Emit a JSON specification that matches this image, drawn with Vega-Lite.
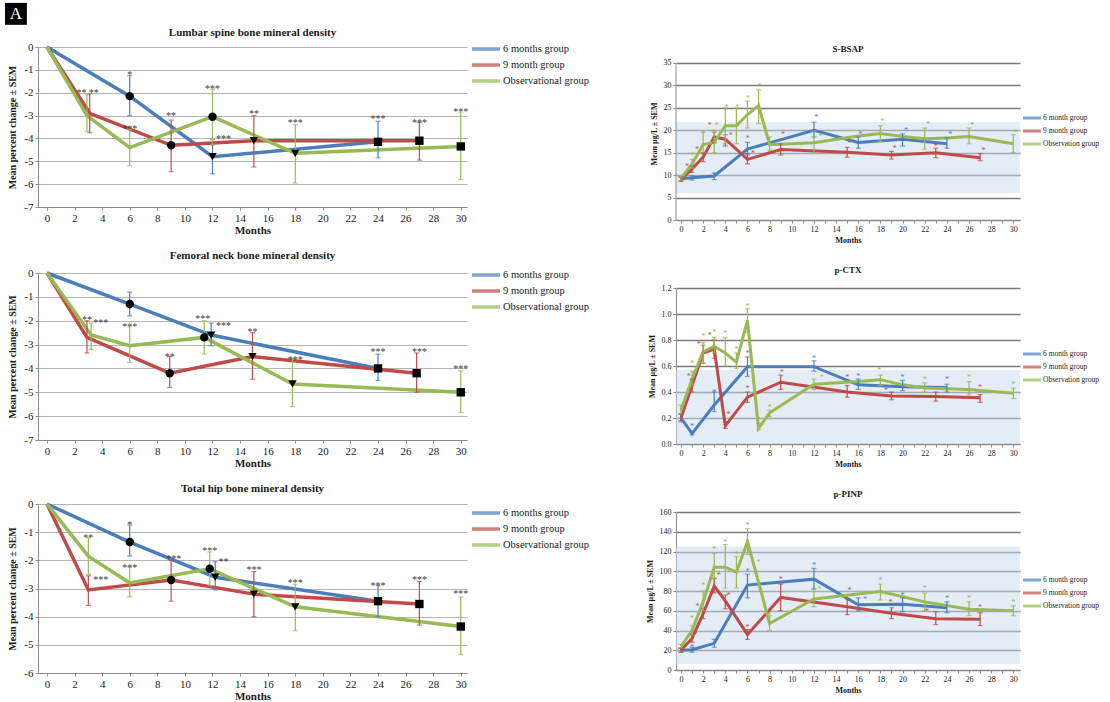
{
  "$schema": "https://vega.github.io/schema/vega-lite/v6.json",
  "background": "white",
  "padding": {"left": 4, "top": 2, "right": 0, "bottom": 0},
  "config": {
    "font": "Liberation Serif",
    "view": {"stroke": null},
    "axis": {"labelFont": "Liberation Serif", "titleFont": "Liberation Serif", "labelColor": "#1a1a1a", "titleColor": "#1a1a1a", "domainColor": "#8c8c8c", "tickColor": "#8c8c8c", "gridColor": "#b4b4b4", "labelFontSize": 11, "titleFontSize": 11, "titleFontWeight": "bold", "tickSize": 3, "labelPadding": 2, "labelOverlap": false},
    "axisX": {"grid": false, "titlePadding": 1, "labelFlush": false},
    "axisY": {"grid": true, "titlePadding": 6, "titleFontSize": 10},
    "title": {"font": "Liberation Serif", "fontWeight": "bold", "fontSize": 11, "color": "#1a1a1a", "offset": 9},
    "legend": {"labelFont": "Liberation Serif", "labelColor": "#1a1a1a"}
  },
  "datasets": {
    "lumbar": [
      {"group": "6 months group", "month": 0, "mean": 0},
      {"group": "6 months group", "month": 6, "mean": -2.15, "lo": -3.0, "hi": -1.25, "tp": "T1"},
      {"group": "6 months group", "month": 12, "mean": -4.8, "lo": -5.55, "hi": -4.05, "tp": "T2"},
      {"group": "6 months group", "month": 24, "mean": -4.15, "lo": -4.85, "hi": -3.25, "tp": "T3"},
      {"group": "9 month group", "month": 0, "mean": 0},
      {"group": "9 month group", "month": 3.1, "mean": -2.9, "lo": -3.75, "hi": -2.05},
      {"group": "9 month group", "month": 9, "mean": -4.3, "lo": -5.45, "hi": -3.2, "tp": "T1"},
      {"group": "9 month group", "month": 15, "mean": -4.1, "lo": -5.25, "hi": -3.0, "tp": "T2"},
      {"group": "9 month group", "month": 27, "mean": -4.1, "lo": -4.95, "hi": -3.3, "tp": "T3"},
      {"group": "Observational group", "month": 0, "mean": 0},
      {"group": "Observational group", "month": 2.9, "mean": -3.0, "lo": -3.7, "hi": -2.1},
      {"group": "Observational group", "month": 6, "mean": -4.4, "lo": -5.2, "hi": -3.6},
      {"group": "Observational group", "month": 12, "mean": -3.05, "lo": -4.3, "hi": -1.85, "tp": "T1"},
      {"group": "Observational group", "month": 18, "mean": -4.65, "lo": -5.95, "hi": -3.4, "tp": "T2"},
      {"group": "Observational group", "month": 30, "mean": -4.35, "lo": -5.8, "hi": -2.85, "tp": "T3"}
    ],
    "lumbar_stars": [
      {"group": "Observational group", "month": 2.5, "level": -1.9, "stars": "**"},
      {"group": "9 month group", "month": 3.4, "level": -1.9, "stars": "**"},
      {"group": "6 months group", "month": 6, "level": -1.1, "stars": "*"},
      {"group": "Observational group", "month": 6, "level": -3.45, "stars": "***"},
      {"group": "9 month group", "month": 9, "level": -2.9, "stars": "**"},
      {"group": "Observational group", "month": 12, "level": -1.7, "stars": "***"},
      {"group": "6 months group", "month": 12.8, "level": -3.9, "stars": "***"},
      {"group": "9 month group", "month": 15, "level": -2.8, "stars": "**"},
      {"group": "Observational group", "month": 18, "level": -3.2, "stars": "***"},
      {"group": "6 months group", "month": 24, "level": -3.0, "stars": "***"},
      {"group": "9 month group", "month": 27, "level": -3.2, "stars": "***"},
      {"group": "Observational group", "month": 30, "level": -2.7, "stars": "***"}
    ],
    "femoral": [
      {"group": "6 months group", "month": 0, "mean": 0},
      {"group": "6 months group", "month": 6, "mean": -1.3, "lo": -1.8, "hi": -0.8, "tp": "T1"},
      {"group": "6 months group", "month": 11.9, "mean": -2.6, "lo": -3.05, "hi": -2.1, "tp": "T2"},
      {"group": "6 months group", "month": 24, "mean": -4.0, "lo": -4.5, "hi": -3.4, "tp": "T3"},
      {"group": "9 month group", "month": 0, "mean": 0},
      {"group": "9 month group", "month": 2.9, "mean": -2.7, "lo": -3.35, "hi": -2.0},
      {"group": "9 month group", "month": 8.9, "mean": -4.2, "lo": -4.8, "hi": -3.5, "tp": "T1"},
      {"group": "9 month group", "month": 14.9, "mean": -3.5, "lo": -4.45, "hi": -2.5, "tp": "T2"},
      {"group": "9 month group", "month": 26.8, "mean": -4.2, "lo": -5.0, "hi": -3.35, "tp": "T3"},
      {"group": "Observational group", "month": 0, "mean": 0},
      {"group": "Observational group", "month": 3.2, "mean": -2.6, "lo": -3.2, "hi": -2.1},
      {"group": "Observational group", "month": 6, "mean": -3.05, "lo": -3.75, "hi": -2.25},
      {"group": "Observational group", "month": 11.4, "mean": -2.7, "lo": -3.4, "hi": -2.0, "tp": "T1"},
      {"group": "Observational group", "month": 17.8, "mean": -4.65, "lo": -5.6, "hi": -3.6, "tp": "T2"},
      {"group": "Observational group", "month": 30, "mean": -5.0, "lo": -5.85, "hi": -4.1, "tp": "T3"}
    ],
    "femoral_stars": [
      {"group": "9 month group", "month": 2.9, "level": -1.85, "stars": "**"},
      {"group": "Observational group", "month": 3.9, "level": -1.95, "stars": "***"},
      {"group": "Observational group", "month": 6, "level": -2.15, "stars": "***"},
      {"group": "9 month group", "month": 8.9, "level": -3.4, "stars": "**"},
      {"group": "Observational group", "month": 11.3, "level": -1.8, "stars": "***"},
      {"group": "6 months group", "month": 12.8, "level": -2.1, "stars": "***"},
      {"group": "9 month group", "month": 14.9, "level": -2.35, "stars": "**"},
      {"group": "Observational group", "month": 18, "level": -3.5, "stars": "***"},
      {"group": "6 months group", "month": 24, "level": -3.2, "stars": "***"},
      {"group": "9 month group", "month": 27, "level": -3.2, "stars": "***"},
      {"group": "Observational group", "month": 30, "level": -3.9, "stars": "***"}
    ],
    "hip": [
      {"group": "6 months group", "month": 0, "mean": 0},
      {"group": "6 months group", "month": 6, "mean": -1.35, "lo": -1.85, "hi": -0.75, "tp": "T1"},
      {"group": "6 months group", "month": 12.2, "mean": -2.6, "lo": -3.05, "hi": -2.05, "tp": "T2"},
      {"group": "6 months group", "month": 24, "mean": -3.45, "lo": -4.0, "hi": -2.9, "tp": "T3"},
      {"group": "9 month group", "month": 0, "mean": 0},
      {"group": "9 month group", "month": 3, "mean": -3.05, "lo": -3.6, "hi": -2.55},
      {"group": "9 month group", "month": 9, "mean": -2.7, "lo": -3.45, "hi": -2.0, "tp": "T1"},
      {"group": "9 month group", "month": 15, "mean": -3.2, "lo": -4.0, "hi": -2.4, "tp": "T2"},
      {"group": "9 month group", "month": 27, "mean": -3.55, "lo": -4.3, "hi": -2.75, "tp": "T3"},
      {"group": "Observational group", "month": 0, "mean": 0},
      {"group": "Observational group", "month": 3, "mean": -1.85, "lo": -2.5, "hi": -1.2},
      {"group": "Observational group", "month": 6, "mean": -2.8, "lo": -3.3, "hi": -2.25},
      {"group": "Observational group", "month": 11.8, "mean": -2.3, "lo": -2.9, "hi": -1.7, "tp": "T1"},
      {"group": "Observational group", "month": 18, "mean": -3.65, "lo": -4.5, "hi": -2.85, "tp": "T2"},
      {"group": "Observational group", "month": 30, "mean": -4.35, "lo": -5.35, "hi": -3.3, "tp": "T3"}
    ],
    "hip_stars": [
      {"group": "Observational group", "month": 3, "level": -1.1, "stars": "**"},
      {"group": "9 month group", "month": 3.9, "level": -2.6, "stars": "***"},
      {"group": "6 months group", "month": 6, "level": -0.65, "stars": "*"},
      {"group": "Observational group", "month": 6, "level": -2.15, "stars": "***"},
      {"group": "9 month group", "month": 9.2, "level": -1.85, "stars": "***"},
      {"group": "Observational group", "month": 11.8, "level": -1.55, "stars": "***"},
      {"group": "6 months group", "month": 12.8, "level": -1.95, "stars": "**"},
      {"group": "9 month group", "month": 15, "level": -2.25, "stars": "***"},
      {"group": "Observational group", "month": 18, "level": -2.7, "stars": "***"},
      {"group": "6 months group", "month": 24, "level": -2.8, "stars": "***"},
      {"group": "9 month group", "month": 27, "level": -2.6, "stars": "***"},
      {"group": "Observational group", "month": 30, "level": -3.1, "stars": "***"}
    ],
    "bsap": [
      {"group": "6 month group", "month": 0, "mean": 9.2, "lo": 8.7, "hi": 9.7},
      {"group": "6 month group", "month": 1, "mean": 9.4, "lo": 8.9, "hi": 9.9},
      {"group": "6 month group", "month": 3, "mean": 9.8, "lo": 9.0, "hi": 10.5},
      {"group": "6 month group", "month": 6, "mean": 15.8, "lo": 14.5, "hi": 17.3},
      {"group": "6 month group", "month": 12, "mean": 20.0, "lo": 18.5, "hi": 21.8},
      {"group": "6 month group", "month": 16, "mean": 17.3, "lo": 16.0, "hi": 18.5},
      {"group": "6 month group", "month": 20, "mean": 18.0, "lo": 16.5, "hi": 19.2},
      {"group": "6 month group", "month": 24, "mean": 17.0, "lo": 16.0, "hi": 18.3},
      {"group": "9 month group", "month": 0, "mean": 9.0, "lo": 8.6, "hi": 9.5},
      {"group": "9 month group", "month": 1, "mean": 11.4, "lo": 10.6, "hi": 12.0},
      {"group": "9 month group", "month": 2, "mean": 14.0, "lo": 13.0, "hi": 15.0},
      {"group": "9 month group", "month": 3, "mean": 18.5, "lo": 17.2, "hi": 19.6},
      {"group": "9 month group", "month": 4, "mean": 18.0, "lo": 16.5, "hi": 19.0},
      {"group": "9 month group", "month": 6, "mean": 13.5, "lo": 12.5, "hi": 14.8},
      {"group": "9 month group", "month": 9, "mean": 15.7, "lo": 14.5, "hi": 17.0},
      {"group": "9 month group", "month": 15, "mean": 15.1, "lo": 14.0, "hi": 16.2},
      {"group": "9 month group", "month": 19, "mean": 14.5, "lo": 13.6, "hi": 15.3},
      {"group": "9 month group", "month": 23, "mean": 15.0, "lo": 13.9, "hi": 16.0},
      {"group": "9 month group", "month": 27, "mean": 13.9, "lo": 13.2, "hi": 14.8},
      {"group": "Observation group", "month": 0, "mean": 9.3, "lo": 8.8, "hi": 9.8},
      {"group": "Observation group", "month": 1, "mean": 12.5, "lo": 11.5, "hi": 13.5},
      {"group": "Observation group", "month": 2, "mean": 16.8, "lo": 15.0, "hi": 19.5},
      {"group": "Observation group", "month": 3, "mean": 17.3, "lo": 15.0, "hi": 20.0},
      {"group": "Observation group", "month": 4, "mean": 21.0, "lo": 17.0, "hi": 25.0},
      {"group": "Observation group", "month": 5, "mean": 21.0, "lo": 17.0, "hi": 25.0},
      {"group": "Observation group", "month": 6, "mean": 23.5, "lo": 20.5, "hi": 26.5},
      {"group": "Observation group", "month": 7, "mean": 25.5, "lo": 21.5, "hi": 29.0},
      {"group": "Observation group", "month": 8, "mean": 16.8, "lo": 15.5, "hi": 18.5},
      {"group": "Observation group", "month": 12, "mean": 17.2, "lo": 15.0, "hi": 19.8},
      {"group": "Observation group", "month": 16, "mean": 18.7},
      {"group": "Observation group", "month": 18, "mean": 19.3, "lo": 17.5, "hi": 21.0},
      {"group": "Observation group", "month": 20, "mean": 18.6},
      {"group": "Observation group", "month": 22, "mean": 18.1, "lo": 15.8, "hi": 20.5},
      {"group": "Observation group", "month": 24, "mean": 18.3},
      {"group": "Observation group", "month": 26, "mean": 18.6, "lo": 17.0, "hi": 20.5},
      {"group": "Observation group", "month": 30, "mean": 17.0, "lo": 15.0, "hi": 19.0}
    ],
    "bsap_stars": [
      {"group": "6 month group", "month": 6, "level": 18.6, "stars": "*"},
      {"group": "6 month group", "month": 12.2, "level": 23.1, "stars": "*"},
      {"group": "6 month group", "month": 16.2, "level": 19.5, "stars": "*"},
      {"group": "6 month group", "month": 20.3, "level": 20.3, "stars": "*"},
      {"group": "6 month group", "month": 24.3, "level": 19.5, "stars": "*"},
      {"group": "9 month group", "month": 0.55, "level": 12.3, "stars": "*"},
      {"group": "9 month group", "month": 1.45, "level": 16.1, "stars": "*"},
      {"group": "9 month group", "month": 2.6, "level": 21.4, "stars": "*"},
      {"group": "9 month group", "month": 4.5, "level": 19.2, "stars": "*"},
      {"group": "9 month group", "month": 6.5, "level": 15.2, "stars": "*"},
      {"group": "9 month group", "month": 9.2, "level": 19.3, "stars": "*"},
      {"group": "9 month group", "month": 15.2, "level": 17.4, "stars": "*"},
      {"group": "9 month group", "month": 19.3, "level": 16.2, "stars": "*"},
      {"group": "9 month group", "month": 23.0, "level": 16.7, "stars": "*"},
      {"group": "9 month group", "month": 27.3, "level": 15.9, "stars": "*"},
      {"group": "Observation group", "month": 1.0, "level": 14.7, "stars": "*"},
      {"group": "Observation group", "month": 2.0, "level": 19.6, "stars": "*"},
      {"group": "Observation group", "month": 3.2, "level": 21.3, "stars": "*"},
      {"group": "Observation group", "month": 4.1, "level": 25.3, "stars": "*"},
      {"group": "Observation group", "month": 5.1, "level": 25.3, "stars": "*"},
      {"group": "Observation group", "month": 6.05, "level": 27.4, "stars": "*"},
      {"group": "Observation group", "month": 7.06, "level": 30.0, "stars": "*"},
      {"group": "Observation group", "month": 12.6, "level": 19.0, "stars": "*"},
      {"group": "Observation group", "month": 18.2, "level": 22.3, "stars": "*"},
      {"group": "Observation group", "month": 22.3, "level": 21.6, "stars": "*"},
      {"group": "Observation group", "month": 26.3, "level": 21.4, "stars": "*"},
      {"group": "Observation group", "month": 30.2, "level": 19.9, "stars": "*"}
    ],
    "ctx": [
      {"group": "6 month group", "month": 0, "mean": 0.2, "lo": 0.17, "hi": 0.23},
      {"group": "6 month group", "month": 1, "mean": 0.08, "lo": 0.07, "hi": 0.1},
      {"group": "6 month group", "month": 3, "mean": 0.3, "lo": 0.25, "hi": 0.4},
      {"group": "6 month group", "month": 6, "mean": 0.595, "lo": 0.52, "hi": 0.67},
      {"group": "6 month group", "month": 12, "mean": 0.595, "lo": 0.56, "hi": 0.64},
      {"group": "6 month group", "month": 16, "mean": 0.455, "lo": 0.42, "hi": 0.5},
      {"group": "6 month group", "month": 20, "mean": 0.44, "lo": 0.41, "hi": 0.49},
      {"group": "6 month group", "month": 24, "mean": 0.435, "lo": 0.4, "hi": 0.46},
      {"group": "9 month group", "month": 0, "mean": 0.2, "lo": 0.18, "hi": 0.23},
      {"group": "9 month group", "month": 1, "mean": 0.45, "lo": 0.4, "hi": 0.5},
      {"group": "9 month group", "month": 2, "mean": 0.7, "lo": 0.62, "hi": 0.76},
      {"group": "9 month group", "month": 3, "mean": 0.73, "lo": 0.66, "hi": 0.8},
      {"group": "9 month group", "month": 4, "mean": 0.14, "lo": 0.12, "hi": 0.17},
      {"group": "9 month group", "month": 6, "mean": 0.36, "lo": 0.32, "hi": 0.4},
      {"group": "9 month group", "month": 9, "mean": 0.475, "lo": 0.42, "hi": 0.53},
      {"group": "9 month group", "month": 15, "mean": 0.4, "lo": 0.36, "hi": 0.45},
      {"group": "9 month group", "month": 19, "mean": 0.37, "lo": 0.34, "hi": 0.4},
      {"group": "9 month group", "month": 23, "mean": 0.365, "lo": 0.33, "hi": 0.4},
      {"group": "9 month group", "month": 27, "mean": 0.355, "lo": 0.32, "hi": 0.38},
      {"group": "Observation group", "month": 0, "mean": 0.26, "lo": 0.23, "hi": 0.3},
      {"group": "Observation group", "month": 1, "mean": 0.5, "lo": 0.45, "hi": 0.56},
      {"group": "Observation group", "month": 2, "mean": 0.71, "lo": 0.62, "hi": 0.78},
      {"group": "Observation group", "month": 3, "mean": 0.75, "lo": 0.7, "hi": 0.82},
      {"group": "Observation group", "month": 4, "mean": 0.7, "lo": 0.6, "hi": 0.82},
      {"group": "Observation group", "month": 5, "mean": 0.63, "lo": 0.58, "hi": 0.7},
      {"group": "Observation group", "month": 6, "mean": 0.95, "lo": 0.86, "hi": 1.04},
      {"group": "Observation group", "month": 7, "mean": 0.12, "lo": 0.11, "hi": 0.16},
      {"group": "Observation group", "month": 8, "mean": 0.24, "lo": 0.21, "hi": 0.26},
      {"group": "Observation group", "month": 12, "mean": 0.46, "lo": 0.42, "hi": 0.5},
      {"group": "Observation group", "month": 16, "mean": 0.48},
      {"group": "Observation group", "month": 18, "mean": 0.495, "lo": 0.45, "hi": 0.53},
      {"group": "Observation group", "month": 20, "mean": 0.455},
      {"group": "Observation group", "month": 22, "mean": 0.43, "lo": 0.4, "hi": 0.47},
      {"group": "Observation group", "month": 26, "mean": 0.42, "lo": 0.38, "hi": 0.48},
      {"group": "Observation group", "month": 30, "mean": 0.39, "lo": 0.35, "hi": 0.43}
    ],
    "ctx_stars": [
      {"group": "6 month group", "month": 1, "level": 0.15, "stars": "*"},
      {"group": "6 month group", "month": 3, "level": 0.41, "stars": "*"},
      {"group": "6 month group", "month": 6, "level": 0.71, "stars": "*"},
      {"group": "6 month group", "month": 12, "level": 0.67, "stars": "*"},
      {"group": "6 month group", "month": 16, "level": 0.53, "stars": "*"},
      {"group": "6 month group", "month": 20, "level": 0.52, "stars": "*"},
      {"group": "6 month group", "month": 24, "level": 0.51, "stars": "*"},
      {"group": "9 month group", "month": 0.7, "level": 0.53, "stars": "*"},
      {"group": "9 month group", "month": 1.6, "level": 0.78, "stars": "*"},
      {"group": "9 month group", "month": 2.6, "level": 0.85, "stars": "*"},
      {"group": "9 month group", "month": 4.3, "level": 0.24, "stars": "*"},
      {"group": "9 month group", "month": 6, "level": 0.44, "stars": "*"},
      {"group": "9 month group", "month": 9.1, "level": 0.56, "stars": "*"},
      {"group": "9 month group", "month": 15, "level": 0.52, "stars": "*"},
      {"group": "9 month group", "month": 18.5, "level": 0.42, "stars": "*"},
      {"group": "9 month group", "month": 27, "level": 0.45, "stars": "*"},
      {"group": "Observation group", "month": 1, "level": 0.63, "stars": "*"},
      {"group": "Observation group", "month": 2, "level": 0.84, "stars": "*"},
      {"group": "Observation group", "month": 3, "level": 0.87, "stars": "*"},
      {"group": "Observation group", "month": 4, "level": 0.86, "stars": "*"},
      {"group": "Observation group", "month": 5, "level": 0.74, "stars": "*"},
      {"group": "Observation group", "month": 6, "level": 1.07, "stars": "*"},
      {"group": "Observation group", "month": 7, "level": 0.2, "stars": "*"},
      {"group": "Observation group", "month": 8, "level": 0.29, "stars": "*"},
      {"group": "Observation group", "month": 12.7, "level": 0.52, "stars": "*"},
      {"group": "Observation group", "month": 17.9, "level": 0.58, "stars": "*"},
      {"group": "Observation group", "month": 22, "level": 0.51, "stars": "*"},
      {"group": "Observation group", "month": 26, "level": 0.52, "stars": "*"},
      {"group": "Observation group", "month": 30, "level": 0.47, "stars": "*"}
    ],
    "pinp": [
      {"group": "6 month group", "month": 0, "mean": 20, "lo": 18, "hi": 22},
      {"group": "6 month group", "month": 1, "mean": 20.5, "lo": 18, "hi": 23},
      {"group": "6 month group", "month": 3, "mean": 27, "lo": 23, "hi": 31},
      {"group": "6 month group", "month": 6, "mean": 86, "lo": 73, "hi": 97},
      {"group": "6 month group", "month": 12, "mean": 92, "lo": 82, "hi": 103},
      {"group": "6 month group", "month": 16, "mean": 66, "lo": 60, "hi": 73},
      {"group": "6 month group", "month": 20, "mean": 66.5, "lo": 59, "hi": 73},
      {"group": "6 month group", "month": 24, "mean": 63, "lo": 58, "hi": 69},
      {"group": "9 month group", "month": 0, "mean": 20, "lo": 18, "hi": 22},
      {"group": "9 month group", "month": 1, "mean": 32, "lo": 28, "hi": 36},
      {"group": "9 month group", "month": 2, "mean": 57, "lo": 52, "hi": 62},
      {"group": "9 month group", "month": 3, "mean": 85, "lo": 78, "hi": 93},
      {"group": "9 month group", "month": 4, "mean": 70, "lo": 62, "hi": 76},
      {"group": "9 month group", "month": 6, "mean": 36, "lo": 31, "hi": 41},
      {"group": "9 month group", "month": 9, "mean": 73.5, "lo": 60, "hi": 87},
      {"group": "9 month group", "month": 15, "mean": 64, "lo": 56, "hi": 72},
      {"group": "9 month group", "month": 19, "mean": 57.5, "lo": 52, "hi": 63},
      {"group": "9 month group", "month": 23, "mean": 52, "lo": 46, "hi": 59},
      {"group": "9 month group", "month": 27, "mean": 51.5, "lo": 45, "hi": 58},
      {"group": "Observation group", "month": 0, "mean": 24, "lo": 22, "hi": 26},
      {"group": "Observation group", "month": 1, "mean": 40, "lo": 35, "hi": 45},
      {"group": "Observation group", "month": 2, "mean": 69, "lo": 60, "hi": 80},
      {"group": "Observation group", "month": 3, "mean": 104, "lo": 92, "hi": 118},
      {"group": "Observation group", "month": 4, "mean": 104, "lo": 83, "hi": 127},
      {"group": "Observation group", "month": 5, "mean": 99, "lo": 83, "hi": 115},
      {"group": "Observation group", "month": 6, "mean": 130, "lo": 117, "hi": 143},
      {"group": "Observation group", "month": 7, "mean": 89},
      {"group": "Observation group", "month": 8, "mean": 47, "lo": 40, "hi": 55},
      {"group": "Observation group", "month": 12, "mean": 72, "lo": 64, "hi": 82},
      {"group": "Observation group", "month": 16, "mean": 77},
      {"group": "Observation group", "month": 18, "mean": 79.5, "lo": 71, "hi": 87},
      {"group": "Observation group", "month": 22, "mean": 69, "lo": 60, "hi": 78},
      {"group": "Observation group", "month": 26, "mean": 61.5, "lo": 55, "hi": 69},
      {"group": "Observation group", "month": 30, "mean": 60, "lo": 55, "hi": 65}
    ],
    "pinp_stars": [
      {"group": "6 month group", "month": 1, "level": 24, "stars": "*"},
      {"group": "6 month group", "month": 6, "level": 101, "stars": "*"},
      {"group": "6 month group", "month": 12, "level": 107, "stars": "*"},
      {"group": "6 month group", "month": 16.6, "level": 73, "stars": "*"},
      {"group": "6 month group", "month": 20, "level": 77, "stars": "*"},
      {"group": "6 month group", "month": 24, "level": 74, "stars": "*"},
      {"group": "9 month group", "month": 1.3, "level": 37, "stars": "*"},
      {"group": "9 month group", "month": 1.5, "level": 66, "stars": "*"},
      {"group": "9 month group", "month": 3.4, "level": 97, "stars": "*"},
      {"group": "9 month group", "month": 4.3, "level": 77, "stars": "*"},
      {"group": "9 month group", "month": 6, "level": 45, "stars": "*"},
      {"group": "9 month group", "month": 9, "level": 93, "stars": "*"},
      {"group": "9 month group", "month": 15.2, "level": 82, "stars": "*"},
      {"group": "9 month group", "month": 18.9, "level": 70, "stars": "*"},
      {"group": "9 month group", "month": 22.2, "level": 61, "stars": "*"},
      {"group": "9 month group", "month": 27, "level": 65, "stars": "*"},
      {"group": "Observation group", "month": 1, "level": 54, "stars": "*"},
      {"group": "Observation group", "month": 2, "level": 87, "stars": "*"},
      {"group": "Observation group", "month": 3, "level": 124, "stars": "*"},
      {"group": "Observation group", "month": 4, "level": 131, "stars": "*"},
      {"group": "Observation group", "month": 5, "level": 118, "stars": "*"},
      {"group": "Observation group", "month": 6, "level": 148, "stars": "*"},
      {"group": "Observation group", "month": 7, "level": 110, "stars": "*"},
      {"group": "Observation group", "month": 8, "level": 57, "stars": "*"},
      {"group": "Observation group", "month": 12.5, "level": 83, "stars": "*"},
      {"group": "Observation group", "month": 18, "level": 92.6, "stars": "*"},
      {"group": "Observation group", "month": 22, "level": 84, "stars": "*"},
      {"group": "Observation group", "month": 26, "level": 74, "stars": "*"},
      {"group": "Observation group", "month": 30, "level": 70, "stars": "*"}
    ]
  },
  "hconcat": [
    {
      "spacing": 15,
      "resolve": {"scale": {"color": "independent", "shape": "independent", "x": "independent", "y": "independent"}, "legend": {"color": "independent"}},
      "vconcat": [
        {
          "title": {"text": "Lumbar spine bone mineral density", "dy": 44},
          "width": 429, "height": 160,
          "layer": [
            {"data": {"name": "lumbar"}, "mark": {"type": "line", "strokeWidth": 3.5},
             "encoding": {
               "x": {"field": "month", "type": "quantitative", "title": "Months", "scale": {"domain": [-0.65, 30.45], "nice": false, "zero": false}, "axis": {"values": [0,2,4,6,8,10,12,14,16,18,20,22,24,26,28,30], "tickCount": 60, "format": "d"}},
               "y": {"field": "mean", "type": "quantitative", "title": "Mean percent change ± SEM", "scale": {"domain": [-7, 0], "nice": false}, "axis": {"values": [-7,-6,-5,-4,-3,-2,-1,0], "tickCount": 60, "format": "d", "labelExpr": "replace(datum.label, '\u2212', '-')"}},
               "color": {"field": "group", "type": "nominal", "scale": {"domain": ["6 months group", "9 month group", "Observational group"], "range": ["#4a7ebb", "#be4b48", "#98b954"]},
                 "legend": {"orient": "none", "legendX": 439, "legendY": -7, "title": null, "symbolType": "M-2,0H2", "symbolStrokeWidth": 3.5, "symbolSize": 196, "labelFontSize": 10.5, "rowPadding": 0, "labelOffset": 8, "padding": 0}}
             }},
            {"data": {"name": "lumbar"}, "transform": [{"filter": "isValid(datum.lo)"}], "mark": {"type": "errorbar", "ticks": true, "thickness": 1.2},
             "encoding": {"x": {"field": "month", "type": "quantitative", "title": "Months"}, "y": {"field": "lo", "type": "quantitative", "title": "Mean percent change ± SEM"}, "y2": {"field": "hi"}, "color": {"field": "group", "type": "nominal"}}},
            {"data": {"name": "lumbar"}, "transform": [{"filter": "isValid(datum.tp)"}], "mark": {"type": "point", "filled": true, "color": "black", "opacity": 1, "size": 70},
             "encoding": {"x": {"field": "month", "type": "quantitative", "title": "Months"}, "y": {"field": "mean", "type": "quantitative", "title": "Mean percent change ± SEM"}, "shape": {"field": "tp", "type": "nominal", "scale": {"domain": ["T1", "T2", "T3"], "range": ["circle", "triangle-down", "square"]}, "legend": null}}},
            {"data": {"name": "lumbar_stars"}, "mark": {"type": "text", "fontSize": 10, "color": "#3a3a3a", "dy": 3},
             "encoding": {"x": {"field": "month", "type": "quantitative", "title": "Months"}, "y": {"field": "level", "type": "quantitative", "title": "Mean percent change ± SEM"}, "text": {"field": "stars"}}},
            {"data": {"values": [{"label": "A"}]}, "mark": {"type": "square", "color": "black", "size": 480, "opacity": 1},
             "encoding": {"x": {"datum": -2.25}, "y": {"datum": 1.45}}},
            {"data": {"values": [{"label": "A"}]}, "mark": {"type": "text", "color": "white", "fontSize": 17, "baseline": "middle"},
             "encoding": {"x": {"datum": -2.25}, "y": {"datum": 1.45}, "text": {"field": "label"}}}
          ]
        },
        {
          "title": {"text": "Femoral neck bone mineral density", "dy": 4},
          "width": 429, "height": 167,
          "layer": [
            {"data": {"name": "femoral"}, "mark": {"type": "line", "strokeWidth": 3.5},
             "encoding": {
               "x": {"field": "month", "type": "quantitative", "title": "Months", "scale": {"domain": [-0.65, 30.45], "nice": false, "zero": false}, "axis": {"values": [0,2,4,6,8,10,12,14,16,18,20,22,24,26,28,30], "tickCount": 60, "format": "d"}},
               "y": {"field": "mean", "type": "quantitative", "title": "Mean percent change ± SEM", "scale": {"domain": [-7, 0], "nice": false}, "axis": {"values": [-7,-6,-5,-4,-3,-2,-1,0], "tickCount": 60, "format": "d", "labelExpr": "replace(datum.label, '\u2212', '-')"}},
               "color": {"field": "group", "type": "nominal", "scale": {"domain": ["6 months group", "9 month group", "Observational group"], "range": ["#4a7ebb", "#be4b48", "#98b954"]},
                 "legend": {"orient": "none", "legendX": 439, "legendY": -7, "title": null, "symbolType": "M-2,0H2", "symbolStrokeWidth": 3.5, "symbolSize": 196, "labelFontSize": 10.5, "rowPadding": 0, "labelOffset": 8, "padding": 0}}
             }},
            {"data": {"name": "femoral"}, "transform": [{"filter": "isValid(datum.lo)"}], "mark": {"type": "errorbar", "ticks": true, "thickness": 1.2},
             "encoding": {"x": {"field": "month", "type": "quantitative", "title": "Months"}, "y": {"field": "lo", "type": "quantitative", "title": "Mean percent change ± SEM"}, "y2": {"field": "hi"}, "color": {"field": "group", "type": "nominal"}}},
            {"data": {"name": "femoral"}, "transform": [{"filter": "isValid(datum.tp)"}], "mark": {"type": "point", "filled": true, "color": "black", "opacity": 1, "size": 70},
             "encoding": {"x": {"field": "month", "type": "quantitative", "title": "Months"}, "y": {"field": "mean", "type": "quantitative", "title": "Mean percent change ± SEM"}, "shape": {"field": "tp", "type": "nominal", "scale": {"domain": ["T1", "T2", "T3"], "range": ["circle", "triangle-down", "square"]}, "legend": null}}},
            {"data": {"name": "femoral_stars"}, "mark": {"type": "text", "fontSize": 10, "color": "#3a3a3a", "dy": 3},
             "encoding": {"x": {"field": "month", "type": "quantitative", "title": "Months"}, "y": {"field": "level", "type": "quantitative", "title": "Mean percent change ± SEM"}, "text": {"field": "stars"}}}
          ]
        },
        {
          "title": {"text": "Total hip bone mineral density", "dy": 6},
          "width": 429, "height": 169,
          "layer": [
            {"data": {"name": "hip"}, "mark": {"type": "line", "strokeWidth": 3.5},
             "encoding": {
               "x": {"field": "month", "type": "quantitative", "title": "Months", "scale": {"domain": [-0.65, 30.45], "nice": false, "zero": false}, "axis": {"values": [0,2,4,6,8,10,12,14,16,18,20,22,24,26,28,30], "tickCount": 60, "format": "d"}},
               "y": {"field": "mean", "type": "quantitative", "title": "Mean percent change ± SEM", "scale": {"domain": [-6, 0], "nice": false}, "axis": {"values": [-6,-5,-4,-3,-2,-1,0], "tickCount": 60, "format": "d", "labelExpr": "replace(datum.label, '\u2212', '-')"}},
               "color": {"field": "group", "type": "nominal", "scale": {"domain": ["6 months group", "9 month group", "Observational group"], "range": ["#4a7ebb", "#be4b48", "#98b954"]},
                 "legend": {"orient": "none", "legendX": 439, "legendY": 0, "title": null, "symbolType": "M-2,0H2", "symbolStrokeWidth": 3.5, "symbolSize": 196, "labelFontSize": 10.5, "rowPadding": 0, "labelOffset": 8, "padding": 0}}
             }},
            {"data": {"name": "hip"}, "transform": [{"filter": "isValid(datum.lo)"}], "mark": {"type": "errorbar", "ticks": true, "thickness": 1.2},
             "encoding": {"x": {"field": "month", "type": "quantitative", "title": "Months"}, "y": {"field": "lo", "type": "quantitative", "title": "Mean percent change ± SEM"}, "y2": {"field": "hi"}, "color": {"field": "group", "type": "nominal"}}},
            {"data": {"name": "hip"}, "transform": [{"filter": "isValid(datum.tp)"}], "mark": {"type": "point", "filled": true, "color": "black", "opacity": 1, "size": 70},
             "encoding": {"x": {"field": "month", "type": "quantitative", "title": "Months"}, "y": {"field": "mean", "type": "quantitative", "title": "Mean percent change ± SEM"}, "shape": {"field": "tp", "type": "nominal", "scale": {"domain": ["T1", "T2", "T3"], "range": ["circle", "triangle-down", "square"]}, "legend": null}}},
            {"data": {"name": "hip_stars"}, "mark": {"type": "text", "fontSize": 10, "color": "#3a3a3a", "dy": 3},
             "encoding": {"x": {"field": "month", "type": "quantitative", "title": "Months"}, "y": {"field": "level", "type": "quantitative", "title": "Mean percent change ± SEM"}, "text": {"field": "stars"}}}
          ]
        }
      ]
    },
    {
      "spacing": 22,
      "resolve": {"scale": {"color": "independent", "x": "independent", "y": "independent"}, "legend": {"color": "independent"}},
      "vconcat": [
        {
          "title": {"text": "S-BSAP", "fontSize": 9, "dy": 16},
          "width": 344, "height": 173,
          "layer": [
            {"data": {"values": [{"low": 6, "high": 21.8}]}, "mark": {"type": "rect", "color": "#c9d9ee", "opacity": 0.5},
             "encoding": {"x": {"datum": -0.45}, "x2": {"datum": 30.6}, "y": {"field": "low", "type": "quantitative", "title": "Mean µg/L ±  SEM"}, "y2": {"field": "high"}}},
            {"data": {"values": [{"axisLow": 0, "axisHigh": 35}]}, "mark": {"type": "rule", "color": "#8c8c8c", "strokeWidth": 1},
             "encoding": {"x": {"datum": -0.45}, "y": {"field": "axisLow", "type": "quantitative", "title": "Mean µg/L ±  SEM"}, "y2": {"field": "axisHigh"}}},
            {"data": {"name": "bsap"}, "mark": {"type": "line", "strokeWidth": 3},
             "encoding": {
               "x": {"field": "month", "type": "quantitative", "title": "Months", "scale": {"domain": [-0.45, 30.6], "nice": false, "zero": false}, "axis": {"values": [0,1,2,3,4,5,6,7,8,9,10,11,12,13,14,15,16,17,18,19,20,21,22,23,24,25,26,27,28,29,30], "tickCount": 60, "format": "d", "labelExpr": "datum.value % 2 == 0 ? datum.label : ''", "labelFontSize": 8, "titleFontSize": 8, "tickSize": 3, "titlePadding": 3}},
               "y": {"field": "mean", "type": "quantitative", "title": "Mean µg/L ±  SEM", "scale": {"domain": [0, 38.56], "nice": false}, "axis": {"values": [0,5,10,15,20,25,30,35], "tickCount": 60, "format": "d", "domain": false, "labelFontSize": 8, "titleFontSize": 8, "gridColor": "#7a7a7a", "gridWidth": 1.3, "titlePadding": 5}},
               "color": {"field": "group", "type": "nominal", "scale": {"domain": ["6 month group", "9 month group", "Observation group"], "range": ["#4a7ebb", "#be4b48", "#98b954"]},
                 "legend": {"orient": "none", "legendX": 350, "legendY": 65, "title": null, "symbolType": "M-2,0H2", "symbolStrokeWidth": 3, "symbolSize": 81, "labelFontSize": 7.5, "rowPadding": 1, "labelOffset": 5, "padding": 0}}
             }},
            {"data": {"name": "bsap"}, "transform": [{"filter": "isValid(datum.lo)"}], "mark": {"type": "errorbar", "ticks": true, "thickness": 1.2},
             "encoding": {"x": {"field": "month", "type": "quantitative", "title": "Months"}, "y": {"field": "lo", "type": "quantitative", "title": "Mean µg/L ±  SEM"}, "y2": {"field": "hi"}, "color": {"field": "group", "type": "nominal"}}},
            {"data": {"name": "bsap_stars"}, "mark": {"type": "text", "fontSize": 8, "dy": 2},
             "encoding": {"x": {"field": "month", "type": "quantitative", "title": "Months"}, "y": {"field": "level", "type": "quantitative", "title": "Mean µg/L ±  SEM"}, "text": {"field": "stars"}, "color": {"field": "group", "type": "nominal"}}}
          ]
        },
        {
          "title": {"text": "p-CTX", "fontSize": 9},
          "width": 344, "height": 156,
          "layer": [
            {"data": {"values": [{"low": 0, "high": 0.57}]}, "mark": {"type": "rect", "color": "#c9d9ee", "opacity": 0.5},
             "encoding": {"x": {"datum": -0.45}, "x2": {"datum": 30.6}, "y": {"field": "low", "type": "quantitative", "title": "Mean µg/L ±  SEM"}, "y2": {"field": "high"}}},
            {"data": {"name": "ctx"}, "mark": {"type": "line", "strokeWidth": 3},
             "encoding": {
               "x": {"field": "month", "type": "quantitative", "title": "Months", "scale": {"domain": [-0.45, 30.6], "nice": false, "zero": false}, "axis": {"values": [0,1,2,3,4,5,6,7,8,9,10,11,12,13,14,15,16,17,18,19,20,21,22,23,24,25,26,27,28,29,30], "tickCount": 60, "format": "d", "labelExpr": "datum.value % 2 == 0 ? datum.label : ''", "labelFontSize": 8, "titleFontSize": 8, "tickSize": 3, "titlePadding": 3}},
               "y": {"field": "mean", "type": "quantitative", "title": "Mean µg/L ±  SEM", "scale": {"domain": [0, 1.2], "nice": false}, "axis": {"values": [0,0.2,0.4,0.6,0.8,1.0,1.2], "tickCount": 60, "format": ".1f", "labelFontSize": 8, "titleFontSize": 8, "gridColor": "#7a7a7a", "gridWidth": 1.3, "titlePadding": 5}},
               "color": {"field": "group", "type": "nominal", "scale": {"domain": ["6 month group", "9 month group", "Observation group"], "range": ["#4a7ebb", "#be4b48", "#98b954"]},
                 "legend": {"orient": "none", "legendX": 350, "legendY": 60, "title": null, "symbolType": "M-2,0H2", "symbolStrokeWidth": 3, "symbolSize": 81, "labelFontSize": 7.5, "rowPadding": 1, "labelOffset": 5, "padding": 0}}
             }},
            {"data": {"name": "ctx"}, "transform": [{"filter": "isValid(datum.lo)"}], "mark": {"type": "errorbar", "ticks": true, "thickness": 1.2},
             "encoding": {"x": {"field": "month", "type": "quantitative", "title": "Months"}, "y": {"field": "lo", "type": "quantitative", "title": "Mean µg/L ±  SEM"}, "y2": {"field": "hi"}, "color": {"field": "group", "type": "nominal"}}},
            {"data": {"name": "ctx_stars"}, "mark": {"type": "text", "fontSize": 8, "dy": 2},
             "encoding": {"x": {"field": "month", "type": "quantitative", "title": "Months"}, "y": {"field": "level", "type": "quantitative", "title": "Mean µg/L ±  SEM"}, "text": {"field": "stars"}, "color": {"field": "group", "type": "nominal"}}}
          ]
        },
        {
          "title": {"text": "p-PINP", "fontSize": 9},
          "width": 344, "height": 158,
          "layer": [
            {"data": {"values": [{"low": 6, "high": 125}]}, "mark": {"type": "rect", "color": "#c9d9ee", "opacity": 0.5},
             "encoding": {"x": {"datum": -0.45}, "x2": {"datum": 30.6}, "y": {"field": "low", "type": "quantitative", "title": "Mean µg/L ±  SEM"}, "y2": {"field": "high"}}},
            {"data": {"name": "pinp"}, "mark": {"type": "line", "strokeWidth": 3},
             "encoding": {
               "x": {"field": "month", "type": "quantitative", "title": "Months", "scale": {"domain": [-0.45, 30.6], "nice": false, "zero": false}, "axis": {"values": [0,1,2,3,4,5,6,7,8,9,10,11,12,13,14,15,16,17,18,19,20,21,22,23,24,25,26,27,28,29,30], "tickCount": 60, "format": "d", "labelExpr": "datum.value % 2 == 0 ? datum.label : ''", "labelFontSize": 8, "titleFontSize": 8, "tickSize": 3, "titlePadding": 3}},
               "y": {"field": "mean", "type": "quantitative", "title": "Mean µg/L ±  SEM", "scale": {"domain": [0, 160], "nice": false}, "axis": {"values": [0,20,40,60,80,100,120,140,160], "tickCount": 60, "format": "d", "labelFontSize": 8, "titleFontSize": 8, "gridColor": "#7a7a7a", "gridWidth": 1.3, "titlePadding": 5}},
               "color": {"field": "group", "type": "nominal", "scale": {"domain": ["6 month group", "9 month group", "Observation group"], "range": ["#4a7ebb", "#be4b48", "#98b954"]},
                 "legend": {"orient": "none", "legendX": 350, "legendY": 62, "title": null, "symbolType": "M-2,0H2", "symbolStrokeWidth": 3, "symbolSize": 81, "labelFontSize": 7.5, "rowPadding": 1, "labelOffset": 5, "padding": 0}}
             }},
            {"data": {"name": "pinp"}, "transform": [{"filter": "isValid(datum.lo)"}], "mark": {"type": "errorbar", "ticks": true, "thickness": 1.2},
             "encoding": {"x": {"field": "month", "type": "quantitative", "title": "Months"}, "y": {"field": "lo", "type": "quantitative", "title": "Mean µg/L ±  SEM"}, "y2": {"field": "hi"}, "color": {"field": "group", "type": "nominal"}}},
            {"data": {"name": "pinp_stars"}, "mark": {"type": "text", "fontSize": 8, "dy": 2},
             "encoding": {"x": {"field": "month", "type": "quantitative", "title": "Months"}, "y": {"field": "level", "type": "quantitative", "title": "Mean µg/L ±  SEM"}, "text": {"field": "stars"}, "color": {"field": "group", "type": "nominal"}}}
          ]
        }
      ]
    }
  ],
  "spacing": 56,
  "resolve": {"scale": {"color": "independent", "shape": "independent", "x": "independent", "y": "independent"}, "legend": {"color": "independent"}}
}
